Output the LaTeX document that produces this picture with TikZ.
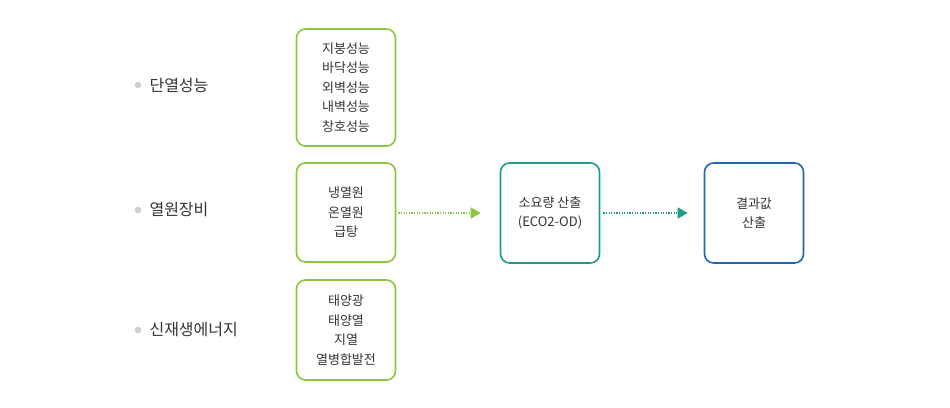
\documentclass[tikz,border=0pt]{standalone}
\usepackage{fontspec}
\setmainfont{Noto Sans CJK KR}
\usetikzlibrary{arrows.meta}
\definecolor{gr}{HTML}{8CC63E}
\definecolor{tl}{HTML}{1E9C8A}
\definecolor{bl}{HTML}{1F68AE}
\definecolor{dot}{HTML}{CFCFCF}
\begin{document}
\begin{tikzpicture}[x=1pt,y=-1pt,
 box/.style={draw=#1,line width=1.6pt,rounded corners=9pt,minimum width=99pt,align=center,font=\fontsize{13}{19.5}\selectfont,text=black!80},
 lab/.style={anchor=west,font=\fontsize{16}{18}\selectfont,text=black!80},
 bul/.style={circle,fill=dot,inner sep=0,minimum size=6.5pt},
 arr/.style={draw=#1,line width=1.3pt,dash pattern=on 1.3pt off 1.3pt,-{Triangle[length=10pt,width=11pt,fill=#1]}}]
\useasboundingbox (0,0) rectangle (950,407);
\node[bul] (b1) at (138,85) {};
\node[bul] (b2) at (138,210) {};
\node[bul] (b3) at (138,330) {};
\node[lab] (l1) at (146,85) {단열성능};
\node[lab] (l2) at (146,210) {열원장비};
\node[lab] (l3) at (146,330) {신재생에너지};
\node[box=gr,minimum height=117pt] (g1) at (346,87.5) {지붕성능\\바닥성능\\외벽성능\\내벽성능\\창호성능};
\node[box=gr,minimum height=99pt] (g2) at (346,212.5) {냉열원\\온열원\\급탕};
\node[box=gr,minimum height=100pt] (g3) at (346,330) {태양광\\태양열\\지열\\열병합발전};
\node[box=tl,minimum height=100pt] (m) at (550,213) {소요량 산출\\(ECO2-OD)};
\node[box=bl,minimum height=100pt] (r) at (754,213) {결과값\\산출};
\draw[arr=gr] ([xshift=2pt]g2.east|-m.center) -- ([xshift=-19pt]m.west);
\draw[arr=tl] ([xshift=3pt]m.east) -- ([xshift=-16pt]r.west);
\end{tikzpicture}
\end{document}
